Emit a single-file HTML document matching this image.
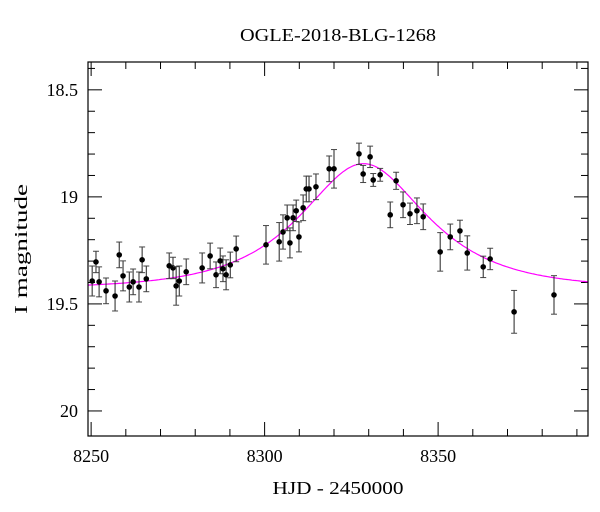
<!DOCTYPE html>
<html><head><meta charset="utf-8"><style>
body{margin:0;background:#fff;}
svg{display:block;font-family:"Liberation Serif",serif;}
</style></head><body>
<svg id="chart" width="600" height="512" viewBox="0 0 600 512">
<text x="338" y="41" font-size="18" text-anchor="middle" textLength="196" lengthAdjust="spacingAndGlyphs">OGLE-2018-BLG-1268</text>
<text x="338" y="494" font-size="18" text-anchor="middle" textLength="131" lengthAdjust="spacingAndGlyphs">HJD - 2450000</text>
<text transform="translate(27,249) rotate(-90)" font-size="18" text-anchor="middle" textLength="130" lengthAdjust="spacingAndGlyphs">I magnitude</text>
<g id="ticks"></g><g id="curve"></g><g id="pts"></g>
<rect x="88" y="62" width="500" height="374" fill="none" stroke="#000" stroke-width="1.2"/>
</svg>
<script>
const days=[8250.3,8251.4,8252.3,8254.3,8256.9,8258.1,8259.2,8261.0,8262.1,8263.8,8264.7,8265.9,8272.5,8273.6,8274.5,8275.4,8277.4,8282.0,8284.3,8286.0,8287.2,8288.0,8288.9,8290.1,8291.8,8300.4,8304.2,8305.3,8306.5,8307.3,8308.2,8309.1,8309.9,8311.1,8312.0,8312.8,8314.8,8318.6,8320.0,8327.2,8328.4,8330.4,8331.3,8333.3,8336.2,8337.9,8339.9,8341.9,8343.9,8345.7,8350.6,8353.5,8356.3,8358.4,8363.0,8365.0,8371.9,8383.4];
const mags=[19.393,19.304,19.397,19.439,19.463,19.271,19.369,19.421,19.397,19.421,19.294,19.383,19.322,19.332,19.416,19.393,19.350,19.332,19.276,19.364,19.299,19.336,19.364,19.318,19.243,19.224,19.210,19.164,19.098,19.215,19.098,19.065,19.187,19.051,18.963,18.963,18.953,18.869,18.869,18.799,18.893,18.813,18.921,18.897,19.084,18.925,19.037,19.079,19.065,19.093,19.257,19.187,19.159,19.262,19.327,19.290,19.537,19.458];
const errs=[0.07,0.05,0.07,0.06,0.07,0.06,0.07,0.07,0.06,0.07,0.06,0.06,0.06,0.05,0.09,0.07,0.06,0.07,0.06,0.06,0.06,0.06,0.07,0.06,0.06,0.09,0.09,0.08,0.06,0.07,0.06,0.05,0.07,0.06,0.06,0.06,0.06,0.06,0.09,0.05,0.04,0.05,0.03,0.03,0.06,0.04,0.06,0.05,0.06,0.06,0.09,0.06,0.05,0.08,0.05,0.05,0.10,0.09];
const xTicks=[8250,8300,8350];
const yTicks=[18.5,19,19.5,20];
const model={m0:19.43,t0:8328.5,tE:27,u0:0.68};
const X0=8249.1,X1=8393.2,Y0=18.37,Y1=20.117,L=88,R=588,T=62,B=436;
const sx=d=>L+(d-X0)/(X1-X0)*(R-L);
const sy=m=>T+(m-Y0)/(Y1-Y0)*(B-T);
const NS="http://www.w3.org/2000/svg";
function mk(t,a,p){const e=document.createElementNS(NS,t);for(const k in a)e.setAttribute(k,a[k]);p.appendChild(e);return e;}
const tg=document.getElementById('ticks');
for(let d=8250;d<=8390;d+=10){const x=sx(d),len=(d%50===0)?14:7;
 const a=mk('line',{x1:x,y1:B,x2:x,y2:B-len,stroke:'#000'},tg);
 const b=mk('line',{x1:x,y1:T,x2:x,y2:T+len,stroke:'#000'},tg);}
xTicks.forEach(d=>{const t=mk('text',{x:sx(d),y:B+26,'font-size':18,'text-anchor':'middle'},tg);t.textContent=d;});
for(let i=0;i<=16;i++){const m=18.4+i*0.1;if(m>Y1)break;const y=sy(m),maj=Math.abs(m*2-Math.round(m*2))<1e-6,len=maj?14:7;
 const a=mk('line',{x1:L,y1:y,x2:L+len,y2:y,stroke:'#000'},tg);
 const b=mk('line',{x1:R,y1:y,x2:R-len,y2:y,stroke:'#000'},tg);}
yTicks.forEach(m=>{const t=mk('text',{x:78,y:sy(m)+6,'font-size':18,'text-anchor':'end'},tg);t.textContent=m;});
let pts=[];for(let d=X0;d<=X1;d+=0.5){const tau=(d-model.t0)/model.tE,u=Math.sqrt(model.u0*model.u0+tau*tau),A=(u*u+2)/(u*Math.sqrt(u*u+4));pts.push(sx(d).toFixed(1)+','+sy(model.m0-2.5*Math.log10(A)).toFixed(1));}
const c=mk('polyline',{points:pts.join(' '),fill:'none',stroke:'#ff00ff','stroke-width':1.2},document.getElementById('curve'));

const pg=document.getElementById('pts');
days.forEach((d,i)=>{const x=sx(d),y=sy(mags[i]),y1=sy(mags[i]-errs[i]),y2=sy(mags[i]+errs[i]);
 const g=mk('g',{},pg);
 mk('line',{x1:x,y1:y1,x2:x,y2:y2,stroke:'#222','stroke-width':1},g);
 mk('line',{x1:x-3,y1:y1,x2:x+3,y2:y1,stroke:'#444','stroke-width':1},g);
 mk('line',{x1:x-3,y1:y2,x2:x+3,y2:y2,stroke:'#444','stroke-width':1},g);
 mk('circle',{cx:x,cy:y,r:2.8,fill:'#000'},g);});
</script>
</body></html>
